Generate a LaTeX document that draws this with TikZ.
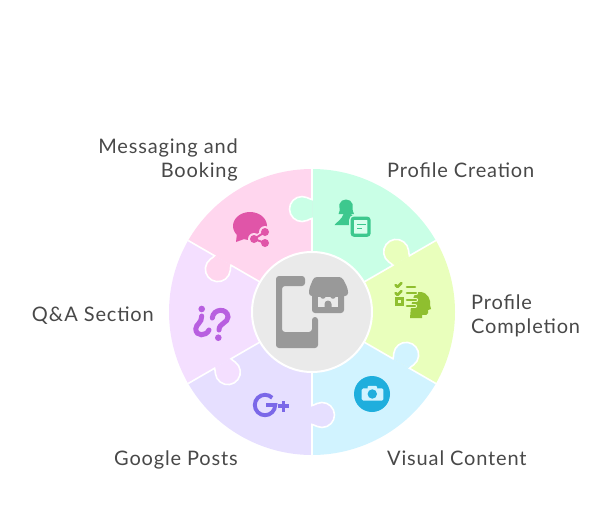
\documentclass[tikz,border=0pt]{standalone}
\usepackage{fontspec}
\setmainfont[LetterSpace=4.2]{Lato}
\usepackage{tikz}
\definecolor{mintbg}{HTML}{C9FFE6}
\definecolor{limebg}{HTML}{E9FFBC}
\definecolor{bluebg}{HTML}{D1F3FF}
\definecolor{lavbg}{HTML}{E6DFFF}
\definecolor{lilacbg}{HTML}{F4DFFF}
\definecolor{pinkbg}{HTML}{FFD6EE}
\definecolor{hubbg}{HTML}{EAEAEA}
\definecolor{hubicon}{HTML}{999999}
\definecolor{mintic}{HTML}{3DC88E}
\definecolor{limeic}{HTML}{8FBF2F}
\definecolor{blueic}{HTML}{1FAEDD}
\definecolor{lavic}{HTML}{7B68E8}
\definecolor{lilacic}{HTML}{B85FE0}
\definecolor{pinkic}{HTML}{E055A8}
\definecolor{labelgray}{HTML}{484848}
\tikzset{label/.style={font=\fontsize{20}{24}\selectfont,text=labelgray,inner sep=0pt},
         seam/.style={draw=white,line width=1.6pt},
         ticks/.style={line width=2.6pt,line cap=round,line join=round},
         hook/.style={line width=5pt,line cap=round,draw=lilacic}
}
\newcommand{\tabpath}{(93.5,0) .. controls (93.5,-2) and (92,-3) .. (91.5,-5) arc[start angle=156.5,end angle=383.5,radius=12.5] .. controls (114,-3) and (112.5,-2) .. (112.5,0)}
\begin{document}
\begin{tikzpicture}[x=1pt,y=1pt,yscale=-1]
      \useasboundingbox (0,0) rectangle (612,516);
      \begin{scope}[shift={(312,312)}]
        \foreach \ang/\col in {-90/mintbg,-30/limebg,30/bluebg,90/lavbg,150/lilacbg,210/pinkbg}{
          \fill[\col,rotate=\ang] (0,0) -- (143,0) arc[start angle=0,end angle=60,radius=143] -- cycle;
        }
        \foreach \ang/\col in {-90/mintbg,-30/limebg,30/bluebg,90/lavbg,150/lilacbg,210/pinkbg}{
          \fill[\col,rotate=\ang] \tabpath -- cycle;
          \draw[seam,rotate=\ang] (60,0) -- \tabpath -- (143,0);
        }
        \draw[fill=hubbg,draw=white,line width=2pt] (0,0) circle (60);
      \end{scope}
      % phone and store
      \fill[hubicon,rounded corners=3pt] (305,276) -- (276,276) -- (276,348) -- (318,348) -- (318,317) -- (312,317) -- (312,332) -- (282,332) -- (282,286) -- (305,286) -- cycle;
      \fill[hubicon,rounded corners=3pt] (314,277) -- (342,277) -- (348,289) -- (348,296) -- (309,296) -- (309,289) -- cycle;
      \fill[hubicon,rounded corners=3pt] (312,290) rectangle (344,313);
      \fill[hubbg] (318,297) rectangle (338,307);
      \fill[hubicon] (323,296) circle (2.8);
      \fill[hubicon] (333,296) circle (2.8);
      \fill[hubicon] (324.5,307) -- (324.5,304) arc[start angle=180,end angle=360,radius=3.5] -- (331.5,307) -- cycle;
      % person with form
      \fill[mintic] (338.5,214) .. controls (341,210) and (338.5,206) .. (339.5,204) .. controls (341,198) and (351,198) .. (352.5,204) .. controls (352.5,207) and (352,210) .. (354,214) -- cycle;
      \fill[mintic] (334.5,225) .. controls (338,221) and (342,219) .. (343.5,214) -- (351,214) -- (356,220) -- (351,225) -- cycle;
      \draw[mintbg,line width=6pt,rounded corners=2pt] (352.2,218.2) rectangle (369,235.2);
      \draw[mintic,fill=mintbg!70!white,line width=3.2pt,rounded corners=2pt] (352.2,218.2) rectangle (369,235.2);
      \draw[mintic,line width=1.8pt] (357,224.5) -- (365.5,224.5);
      \draw[mintic,line width=1.8pt] (357,228.5) -- (362,228.5);
      % head with checklist
      \fill[limeic] (410,318) -- (411,306) -- (414,296) .. controls (416,292) and (419,291.5) .. (421,292) .. controls (428,293) and (431,300) .. (430,305) -- (431,309) -- (428,310) -- (428,313) .. controls (428,315) and (426,315) .. (422,315) -- (422,318) -- cycle;
      \foreach \ya/\xb in {287/415,293/416,300/416,306/415}{
        \draw[limebg,line width=4.2pt,line cap=round] (407,\ya) -- (\xb,\ya);
        \draw[limeic,ticks] (407,\ya) -- (\xb,\ya);
      }
      \foreach \ya in {285,293}{
        \draw[limeic,ticks] (395.5,\ya) -- (397.5,\ya+2) -- (401.5,\ya-2);
      }
      \draw[limeic,line width=2.6pt] (396.3,298.3) rectangle (402.2,304.2);
      % camera
      \fill[blueic] (372,394) circle (18);
      \fill[bluebg,rounded corners=1.5pt] (361.7,388.3) rectangle (383.3,400.7);
      \fill[bluebg,rounded corners=1pt] (367.5,385.8) rectangle (377,390);
      \fill[blueic] (372.3,394) circle (4.7);
      % google plus
      \draw[lavic,line width=3.9pt] (265,405) ++(-45:10.2) arc[start angle=-45,end angle=-360,radius=10.2] -- (266,405);
      \fill[lavic] (278,404.2) rectangle (289,407.8);
      \fill[lavic] (281.5,400.5) rectangle (285.1,411.5);
      % question marks
      \fill[lilacic] (201.7,309) circle (3.3);
      \draw[hook] (201.7,316) .. controls (202,323) and (195.8,324) .. (195.8,329) .. controls (195.8,336.5) and (206,336.5) .. (209,330);
      \fill[lilacic] (218.3,337.7) circle (3.3);
      \draw[hook] (212.3,318) .. controls (213,308.5) and (227.5,307.5) .. (228,317) .. controls (228,323) and (219,323) .. (219,330);
      % chat bubble and share
      \fill[pinkic] (250,226) ellipse (17 and 14);
      \fill[pinkic] (237,233) -- (236,242) -- (247,238) -- cycle;
      \draw[pinkbg,line width=5pt] (265,232) -- (254,239) -- (265,243);
      \foreach \xa/\ya in {265/232,254/239,265/243}{
        \fill[pinkbg] (\xa,\ya) circle (6);
      }
      \draw[pinkic,line width=2pt] (265,232) -- (254,239) -- (265,243);
      \foreach \xa/\ya in {265/232,254/239,265/243}{
        \fill[pinkic] (\xa,\ya) circle (4);
      }
      \node[label,anchor=east,align=right] (booking) at (238,160) {Messaging and\\Booking};
      \node[label,anchor=west] (creation) at (387,170) {Profile Creation};
      \node[label,anchor=west,align=left] (completion) at (471,316) {Profile\\Completion};
      \node[label,anchor=east] (qa) at (154,316) {Q\&A Section};
      \node[label,anchor=east] (posts) at (238,460) {Google Posts};
      \node[label,anchor=west] (visual) at (387,458) {Visual Content};
\end{tikzpicture}
\end{document}
